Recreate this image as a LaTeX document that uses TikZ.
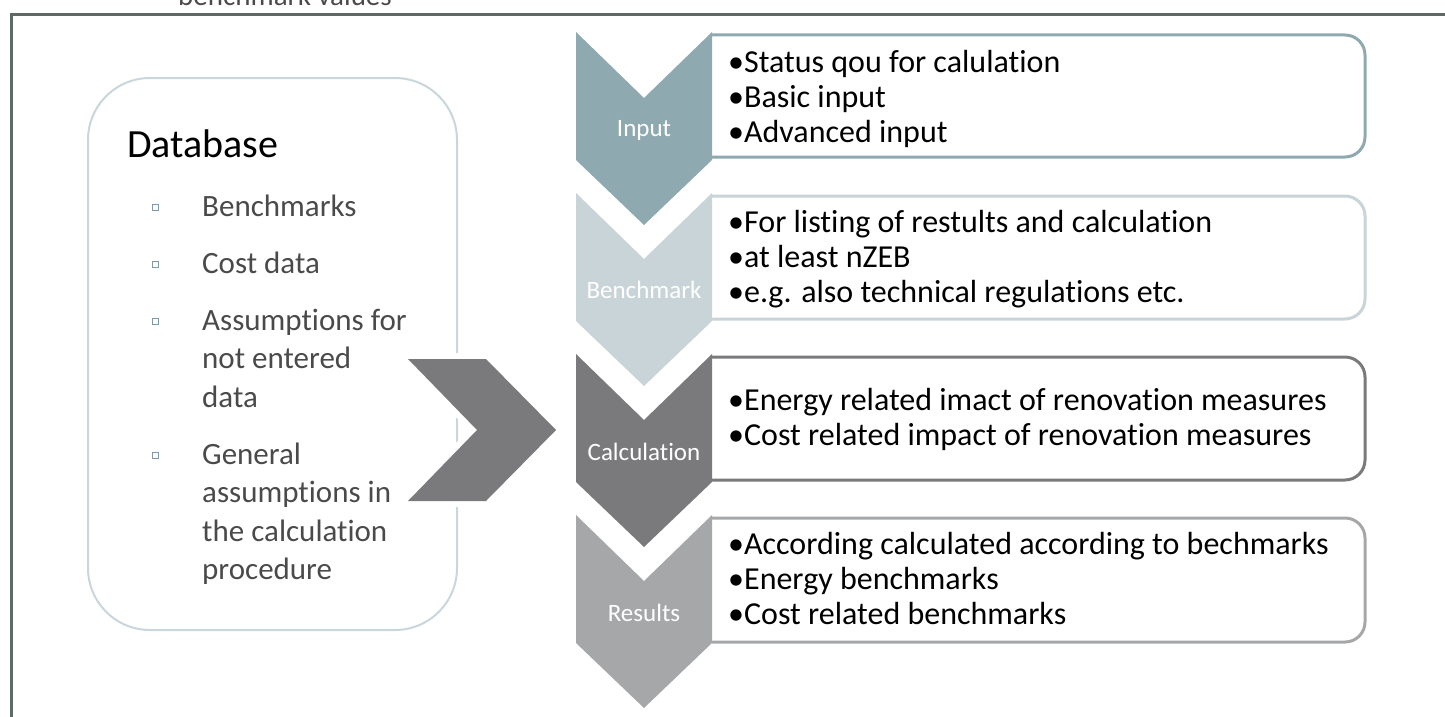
\documentclass[tikz,border=0pt]{standalone}
\usepackage{fontspec}
\setmainfont[Ligatures=CommonOff]{Carlito}
\definecolor{framec}{HTML}{5E6A66}
\definecolor{inputc}{HTML}{8FA9B0}
\definecolor{benchc}{HTML}{C8D4D8}
\definecolor{calcc}{HTML}{7A7A7C}
\definecolor{resc}{HTML}{A6A7A9}
\definecolor{dbline}{HTML}{C9D6DB}
\definecolor{markc}{HTML}{7F98AB}
\definecolor{itemc}{HTML}{4A4A4A}

\begin{document}
\begin{tikzpicture}[x=1pt, y=-1pt,
    stepbox/.style={line width=3pt, rounded corners=20pt},
    steplabel/.style={text=white, inner sep=0pt, font=\fontsize{25}{28}\selectfont},
    steptext/.style={anchor=base west, align=left, inner sep=0pt, font=\fontsize{32}{35}\selectfont},
    dbitem/.style={anchor=base west, align=left, inner sep=0pt, text=itemc, font=\fontsize{31}{38.5}\selectfont},
    dbmark/.style={draw=markc, line width=1.2pt, minimum size=6.5pt, inner sep=0pt}]
    \useasboundingbox (0,0) rectangle (1445,717);

    % frame and cut-off caption
    \draw[framec, line width=3pt] (1460,15) -- (11,15) -- (11,730);
    \node[anchor=base west, inner sep=0pt, text=itemc, font=\fontsize{29}{32}\selectfont] (caption) at (178,6) {benchmark values};

    % database (base = last line)
    \node[draw=dbline, line width=2pt, rounded corners=62pt, minimum width=369pt, minimum height=552pt] (db) at (272.5,354) {};
    \node[anchor=base west, inner sep=0pt, font=\fontsize{40}{44}\selectfont] (dbtitle) at (127,157) {Database};
    \node[dbitem] (bench) at (202,216) {Benchmarks};
    \node[dbitem] (cost) at (202,273) {Cost data};
    \node[dbitem] (assum) at (202,407) {Assumptions for\\not entered\\data};
    \node[dbitem] (general) at (202,579.5) {General\\assumptions in\\the calculation\\procedure};
    \node[dbmark] (m1) at (155.5,207.5) {};
    \node[dbmark] (m2) at (155.5,264.5) {};
    \node[dbmark] (m3) at (155.5,321.5) {};
    \node[dbmark] (m4) at (155.5,455.5) {};

    \path[preaction={draw=white, line width=12pt}, fill=calcc]
        (408,359) -- (486,359) -- (556,430) -- (486,501) -- (408,501) -- (477,430) -- cycle;

    % step boxes
    \draw[stepbox, draw=inputc] (712,35) -- (1365,35) -- (1365,157) -- (712,157);
    \draw[stepbox, draw=benchc] (712,196) -- (1365,196) -- (1365,319) -- (712,319);
    \draw[stepbox, draw=calcc] (712,357) -- (1365,357) -- (1365,480) -- (712,480);
    \draw[stepbox, draw=resc] (712,518) -- (1365,518) -- (1365,642) -- (712,642);

    % step chevrons
    \fill[inputc] (576,32) -- ++(68,66) -- ++(68,-66) -- ++(0,128) -- ++(-68,65) -- ++(-68,-65) -- cycle;
    \fill[benchc] (576,193) -- ++(68,66) -- ++(68,-66) -- ++(0,128) -- ++(-68,65) -- ++(-68,-65) -- cycle;
    \fill[calcc] (576,354) -- ++(68,66) -- ++(68,-66) -- ++(0,128) -- ++(-68,65) -- ++(-68,-65) -- cycle;
    \fill[resc] (576,515) -- ++(68,66) -- ++(68,-66) -- ++(0,128) -- ++(-68,65) -- ++(-68,-65) -- cycle;

    \node[steplabel] (Input) at (644,130) {Input};
    \node[steplabel] (Benchmark) at (644,290) {Benchmark};
    \node[steplabel] (Calculation) at (644,452) {Calculation};
    \node[steplabel] (Results) at (644,613) {Results};

    \node[steptext] (inputtext) at (728,142) {•Status qou for calulation\\•Basic input\\•Advanced input};
    \node[steptext] (benchtext) at (728,302) {•For listing of restults and calculation\\•at least nZEB\\•e.g. also technical regulations etc.};
    \node[steptext] (calctext) at (728,445) {•Energy related imact of renovation measures\\•Cost related impact of renovation measures};
    \node[steptext] (restext) at (728,624) {•According calculated according to bechmarks\\•Energy benchmarks\\•Cost related benchmarks};
\end{tikzpicture}
\end{document}
